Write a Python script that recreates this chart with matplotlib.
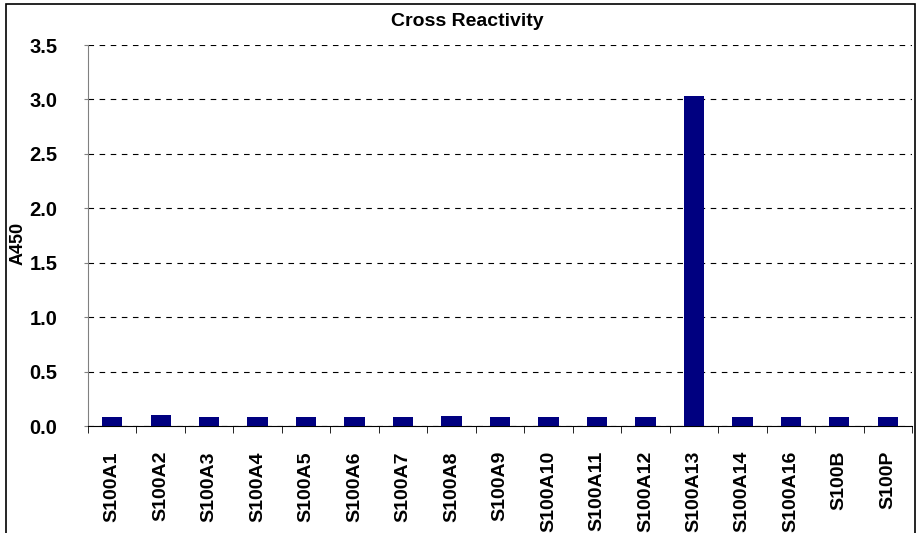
import numpy as np
import matplotlib.pyplot as plt
from matplotlib.patches import Rectangle

# data
proteins = ["S100A1", "S100A2", "S100A3", "S100A4", "S100A5", "S100A6", "S100A7",
            "S100A8", "S100A9", "S100A10", "S100A11", "S100A12", "S100A13",
            "S100A14", "S100A16", "S100B", "S100P"]
a450 = [0.08, 0.10, 0.08, 0.08, 0.08, 0.08, 0.08, 0.09, 0.08, 0.08, 0.08, 0.08,
        3.03, 0.08, 0.08, 0.08, 0.08]
yticks = [0.0, 0.5, 1.0, 1.5, 2.0, 2.5, 3.0, 3.5]

plt.rcParams['font.family'] = ['Liberation Sans', 'DejaVu Sans']
plt.rcParams['font.weight'] = 'bold'

fig = plt.figure(figsize=(9.17, 5.33), dpi=100)
ax = fig.add_axes([88 / 917, 1 - 426 / 533, (912 - 88) / 917, (426 - 45) / 533])

x = np.arange(len(proteins))
ax.bar(x, a450, width=0.42, color="#000080", zorder=3)

ax.set_xlim(-0.5, len(proteins) - 0.5)
ax.set_ylim(0, 3.5)
ax.set_yticks(yticks)
ax.set_yticklabels([f"{v:.1f}" for v in yticks], fontsize=14.5, fontweight='bold')
ax.set_xticks(x)
ax.set_xticklabels(proteins, rotation=90, fontsize=14, fontweight='bold')
ax.tick_params(axis='x', length=0, pad=18)
ax.set_xticks(np.arange(len(proteins) + 1) - 0.5, minor=True)
ax.tick_params(axis='x', which='minor', length=5, direction='out', color='black')
ax.tick_params(axis='y', length=3, color='gray', pad=19)

ax.yaxis.grid(True, linestyle=(0, (5, 5)), color='black', linewidth=0.8)
ax.set_axisbelow(True)

for s in ['top', 'right']:
    ax.spines[s].set_visible(False)
ax.spines['left'].set_color('gray')
ax.spines['bottom'].set_color('black')

fig.text(18 / 917, 1 - 243 / 533, "A450", rotation=90, fontsize=13,
         fontweight='bold', ha='center', va='center')
fig.text(467 / 917, 1 - 21 / 533, "Cross Reactivity", fontsize=14,
         fontweight='bold', ha='center', va='center')

# outer chart frame
fig.patches.append(Rectangle((6 / 917, -0.1), (915 - 6) / 917, 1.1 - 4 / 533,
                             transform=fig.transFigure, fill=False,
                             edgecolor='black', linewidth=1.2))

fig.savefig("out.png", dpi=100)
